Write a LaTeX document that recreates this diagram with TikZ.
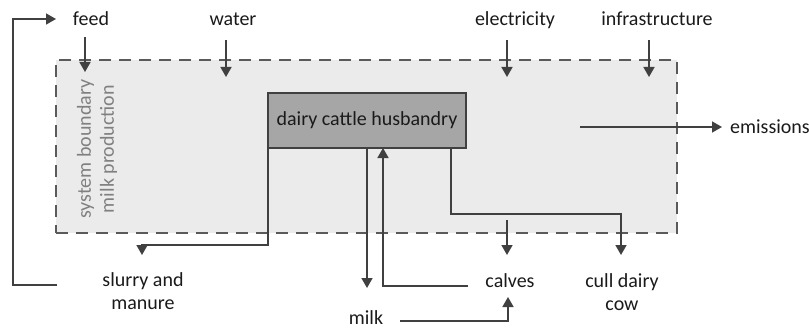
\documentclass[tikz,border=0pt]{standalone}
\usepackage{fontspec}
\setmainfont{Carlito}
\usetikzlibrary{arrows.meta}
\definecolor{lnc}{HTML}{404040}
\definecolor{bndfill}{HTML}{EBEBEB}
\definecolor{bnddraw}{HTML}{5A5A5A}
\definecolor{boxfill}{HTML}{A6A6A6}
\definecolor{sysc}{HTML}{808080}
\definecolor{txt}{HTML}{1A1A1A}
\begin{document}
\begin{tikzpicture}[x=1pt,y=-1pt,
  lbl/.style={font=\fontsize{20}{23}\selectfont, text=txt, inner sep=0pt, align=center},
  conn/.style={draw=lnc, line width=1.7pt},
  arr/.style={conn, -{Triangle[length=10pt,width=11pt]}},
  hbox/.style={draw=lnc, line width=1.2pt, fill=boxfill, minimum width=198pt, minimum height=55pt, inner sep=0pt, font=\fontsize{20}{23}\selectfont, text=txt}]
\useasboundingbox (0,0) rectangle (809,329);
% system boundary
\node[draw=bnddraw, fill=bndfill, line width=1.7pt, dash pattern=on 12pt off 8pt,
  minimum width=621pt, minimum height=173pt, inner sep=0pt] (sys) at (366.5,146.5) {};
\node[lbl, text=sysc, rotate=90, anchor=center] (syslbl) at (97,149) {system boundary\\milk production};
% main process
\node[hbox] (hus) at (367,120.5) {dairy cattle husbandry};
% labels
\node[lbl, anchor=base] (feed) at (91,26) {feed};
\node[lbl, anchor=base] (water) at (233,26) {water};
\node[lbl, anchor=base] (elec) at (515,26) {electricity};
\node[lbl, anchor=base] (infra) at (657,26) {infrastructure};
\node[lbl, anchor=base west] (emis) at (730,133) {emissions};
\node[lbl, anchor=base] (slurry) at (143,309) {slurry and\\manure};
\node[lbl, anchor=base] (calves) at (510,287) {calves};
\node[lbl, anchor=base] (cull) at (622,310) {cull dairy\\cow};
\node[lbl, anchor=base] (milk) at (366,324) {milk};
% coordinates
\coordinate (feedA) at (85,37);   \coordinate (feedB) at (85,72);
\coordinate (waterA) at (226,40); \coordinate (waterB) at (226,77);
\coordinate (elecA) at (507,40);  \coordinate (elecB) at (507,77);
\coordinate (infraA) at (649,40); \coordinate (infraB) at (649,77);
\coordinate (emA) at (580,127);   \coordinate (emB) at (722,127);
\coordinate (slA) at (268,148);   \coordinate (slB) at (268,245);
\coordinate (slC) at (142,245);   \coordinate (slD) at (142,255);
\coordinate (loopA) at (57,285);  \coordinate (loopB) at (13,285);
\coordinate (loopC) at (13,19);   \coordinate (loopD) at (56,19);
\coordinate (mkA) at (367,148);   \coordinate (mkB) at (367,288);
\coordinate (cvA) at (468,286);   \coordinate (cvB) at (383,286);
\coordinate (cvC) at (383,148);
\coordinate (m2A) at (400,321);   \coordinate (m2B) at (508,321);
\coordinate (m2C) at (508,297);
\coordinate (cuA) at (451,148);   \coordinate (cuB) at (451,214);
\coordinate (cuC) at (621,214);   \coordinate (cuD) at (621,255);
\coordinate (caA) at (507,220);   \coordinate (caB) at (507,255);
% connectors
\draw[arr] (feedA) -- (feedB);
\draw[arr] (waterA) -- (waterB);
\draw[arr] (elecA) -- (elecB);
\draw[arr] (infraA) -- (infraB);
\draw[arr] (emA) -- (emB);
\draw[arr] (slA) -- (slB) -- (slC) -- (slD);
\draw[arr] (loopA) -- (loopB) -- (loopC) -- (loopD);
\draw[arr] (mkA) -- (mkB);
\draw[arr] (cvA) -- (cvB) -- (cvC);
\draw[arr] (m2A) -- (m2B) -- (m2C);
\draw[arr] (cuA) -- (cuB) -- (cuC) -- (cuD);
\draw[arr] (caA) -- (caB);
\end{tikzpicture}
\end{document}
